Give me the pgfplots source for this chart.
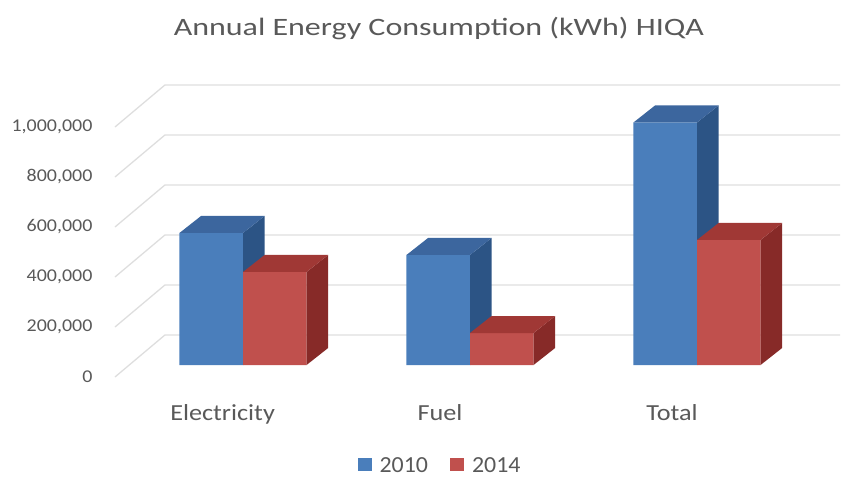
\documentclass[border=0pt]{standalone}
\usepackage{pgfplots}
\pgfplotsset{compat=1.18}
\usepackage{fontspec}
\setmainfont{Carlito}
\newfontfamily\titlefont{Carlito}[FakeStretch=1.28]
\newfontfamily\tickfont{Carlito}[FakeStretch=1.11]
\newfontfamily\labfont{Carlito}[FakeStretch=1.14]
\newfontfamily\legfont{Carlito}[FakeStretch=1.04]
\definecolor{bfront}{RGB}{74,126,187}
\definecolor{btop}{RGB}{60,102,158}
\definecolor{bside}{RGB}{44,84,133}
\definecolor{rfront}{RGB}{192,80,77}
\definecolor{rtop}{RGB}{160,56,53}
\definecolor{rside}{RGB}{135,42,40}
\definecolor{gridc}{RGB}{222,222,222}
\definecolor{txt}{RGB}{89,89,89}
% side and top faces of a bar: #1 bar centre, #2 value, #3 side colour, #4 top colour
\newcommand{\barfaces}[4]{%
  \pgfmathsetmacro{\xl}{#1-0.14}%
  \pgfmathsetmacro{\xr}{#1+0.14}%
  \pgfmathsetmacro{\xlb}{#1-0.14+0.095}%
  \pgfmathsetmacro{\xrb}{#1+0.14+0.095}%
  \edef\vb{\the\numexpr#2+68000\relax}%
  \edef\next{%
    \noexpand\addplot[fill=#3,draw=none,forget plot] coordinates {(\xr,0) (\xrb,68000) (\xrb,\vb) (\xr,#2)};
    \noexpand\addplot[fill=#4,draw=none,forget plot] coordinates {(\xl,#2) (\xlb,\vb) (\xrb,\vb) (\xr,#2)};
  }\next
}
% back-wall gridline: value #1
\newcommand{\gridl}[1]{%
  \edef\next{%
    \noexpand\addplot[gridc,line width=1.3pt,forget plot] coordinates {(-0.564,\the\numexpr#1-48000\relax) (-0.344,\the\numexpr#1+120000\relax) (2.63,\the\numexpr#1+120000\relax)};
  }\next
}
\begin{document}
\begin{tikzpicture}
\path[use as bounding box] (0,0) rectangle (846pt,477pt);
\begin{axis}[
  at={(100pt,92pt)}, anchor=south west,
  scale only axis, width=740pt, height=315pt,
  xmin=-0.63, xmax=2.63, ymin=-80000, ymax=1180000,
  axis line style={draw=none},
  major tick length=0pt,
  scaled y ticks=false,
  xtick={-0.09,0.868,1.89},
  xticklabels={Electricity,Fuel,Total},
  ytick={-46000,154000,354000,554000,754000,954000},
  yticklabels={0,{200,000},{400,000},{600,000},{800,000},{1,000,000}},
  yticklabel style={font=\tickfont\fontsize{18}{21}\selectfont, text=txt, xshift=-4pt},
  xticklabel style={font=\labfont\fontsize{23}{26}\selectfont, text=txt, anchor=base, yshift=-35pt},
  title={Annual Energy Consumption (kWh) HIQA},
  title style={at={(axis description cs:0.458,1.092)}, anchor=base, font=\titlefont\fontsize{25}{30}\selectfont, text=txt},
  legend style={draw=none, fill=none, at={(axis description cs:0.4595,-0.255)}, anchor=center,
    font=\legfont\fontsize{23}{26}\selectfont, text=txt, legend columns=2,
    /tikz/every odd column/.append style={column sep=6pt},
    /tikz/every even column/.append style={column sep=20pt}},
  legend image code/.code={\fill[#1] (0pt,-6pt) rectangle (14pt,7pt);},
  /pgf/number format/assume math mode=true,
]
\gridl{0}
\gridl{200000}
\gridl{400000}
\gridl{600000}
\gridl{800000}
\gridl{1000000}
% 2010
\addplot[ybar, bar width=0.28, bar shift=-0.14, fill=bfront, draw=none]
  coordinates {(0,528000) (1,440000) (2,970000)};
\addlegendentry{2010}
\barfaces{-0.14}{528000}{bside}{btop}
\barfaces{0.86}{440000}{bside}{btop}
\barfaces{1.86}{970000}{bside}{btop}
% 2014
\addplot[ybar, bar width=0.28, bar shift=0.14, fill=rfront, draw=none]
  coordinates {(0,372000) (1,128000) (2,500000)};
\addlegendentry{2014}
\barfaces{0.14}{372000}{rside}{rtop}
\barfaces{1.14}{128000}{rside}{rtop}
\barfaces{2.14}{500000}{rside}{rtop}
\end{axis}
\end{tikzpicture}
\end{document}
